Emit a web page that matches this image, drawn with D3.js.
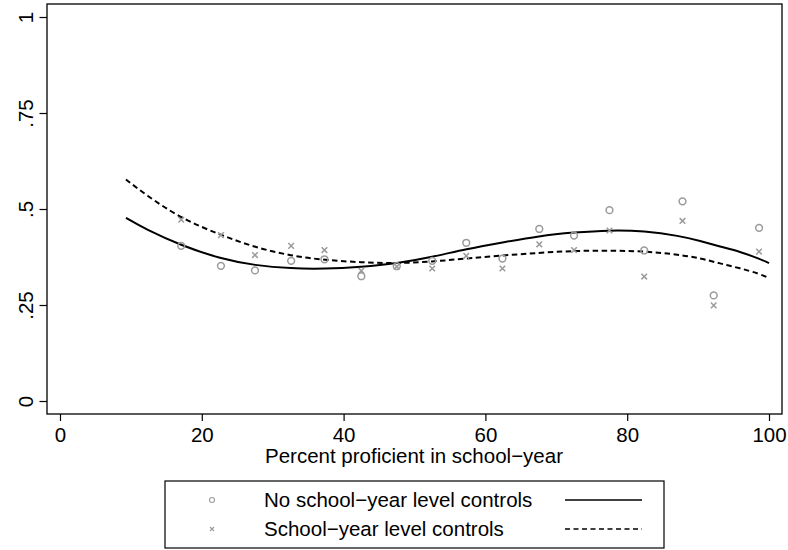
<!DOCTYPE html>
<html>
<head>
<meta charset="utf-8">
<script src="https://cdn.jsdelivr.net/npm/d3@7"></script>
<style>
  body { margin: 0; background: #fff; }
  text { font-family: "Liberation Sans", Arial, Helvetica, sans-serif; fill: #000; }
</style>
</head>
<body>
<script>
// Binned scatter points (percent proficient in school-year)
const binX = [17.1, 22.7, 27.5, 32.6, 37.3, 42.5, 47.5, 52.5, 57.3, 62.4, 67.6, 72.5, 77.5, 82.4, 87.8, 92.2, 98.6];
const noControls = [0.404, 0.352, 0.340, 0.365, 0.369, 0.325, 0.351, 0.365, 0.412, 0.371, 0.448, 0.431, 0.497, 0.392, 0.520, 0.275, 0.451];
const withControls = [0.472, 0.432, 0.380, 0.404, 0.393, 0.339, 0.350, 0.345, 0.378, 0.345, 0.408, 0.393, 0.444, 0.324, 0.469, 0.249, 0.389];

// Fitted curves
const fitX = [9.3, 12, 17.1, 22.7, 27.5, 32.6, 37.3, 42.5, 47.5, 52.5, 57.3, 62.4, 67.6, 72.5, 77.5, 82.4, 87.4, 90.3, 93.1, 95.9, 98.7, 100];
const fitNoControls = [0.477, 0.448, 0.405, 0.370, 0.353, 0.345, 0.344, 0.349, 0.358, 0.375, 0.396, 0.413, 0.430, 0.439, 0.445, 0.443, 0.430, 0.417, 0.402, 0.389, 0.370, 0.359];
const fitControls = [0.577, 0.538, 0.475, 0.432, 0.400, 0.378, 0.367, 0.361, 0.358, 0.363, 0.371, 0.379, 0.386, 0.391, 0.392, 0.390, 0.381, 0.372, 0.358, 0.346, 0.331, 0.320];

const xTicks = [0, 20, 40, 60, 80, 100];
const yTicks = [0, 0.25, 0.5, 0.75, 1];
const yTickLabels = ["0", ".25", ".5", ".75", "1"];
const legendLabels = ["No school\u2212year level controls", "School\u2212year level controls"];
const xTitle = "Percent proficient in school\u2212year";

const width = 788, height = 550;
const frame = { left: 47, top: 4, right: 782, bottom: 414 };
const grey = "#9a9a9a";
const fontSize = "20.5px";

const svg = d3.select("body").append("svg")
  .attr("width", width)
  .attr("height", height);

const x = d3.scaleLinear().domain([0, 100]).range([60, 769]);
const y = d3.scaleLinear().domain([0, 1]).range([401, 17]);

// plot frame
svg.append("rect")
  .attr("x", frame.left).attr("y", frame.top)
  .attr("width", frame.right - frame.left)
  .attr("height", frame.bottom - frame.top)
  .attr("fill", "none").attr("stroke", "#000").attr("stroke-width", 1.3);

// x axis
const xAxis = svg.append("g")
  .attr("transform", `translate(0,${frame.bottom})`)
  .call(d3.axisBottom(x).tickValues(xTicks).tickSize(7).tickPadding(6).tickFormat(d3.format("d")));
xAxis.select(".domain").remove();
xAxis.selectAll("line").attr("stroke", "#000").attr("stroke-width", 1.2);
xAxis.selectAll("text").attr("font-size", fontSize).attr("fill", "#000")
  .style("font-family", "'Liberation Sans', Arial, sans-serif");

// y axis, labels rotated like Stata
const yAxis = svg.append("g")
  .attr("transform", `translate(${frame.left},0)`)
  .call(d3.axisLeft(y).tickValues(yTicks).tickSize(7.5).tickFormat((d, i) => yTickLabels[i]));
yAxis.select(".domain").remove();
yAxis.selectAll("line").attr("stroke", "#000").attr("stroke-width", 1.2);
yAxis.selectAll("text")
  .attr("x", 0).attr("y", 0).attr("dy", 0)
  .attr("transform", "translate(-14,0) rotate(-90)")
  .attr("text-anchor", "middle")
  .attr("font-size", fontSize).attr("fill", "#000")
  .style("font-family", "'Liberation Sans', Arial, sans-serif");

// x title
svg.append("text")
  .attr("x", 414).attr("y", 463)
  .attr("text-anchor", "middle")
  .attr("font-size", fontSize)
  .text(xTitle);

// fitted lines
const line = d3.line().curve(d3.curveBasis);

svg.append("path")
  .attr("d", line(fitX.map((d, i) => [x(d), y(fitNoControls[i])])))
  .attr("fill", "none").attr("stroke", "#000").attr("stroke-width", 2);

svg.append("path")
  .attr("d", line(fitX.map((d, i) => [x(d), y(fitControls[i])])))
  .attr("fill", "none").attr("stroke", "#000").attr("stroke-width", 2)
  .attr("stroke-dasharray", "5.5,3.5");

// scatter: circles and crosses
function cross(g, cx, cy, r) {
  g.append("path")
    .attr("d", `M${cx - r},${cy - r}L${cx + r},${cy + r}M${cx - r},${cy + r}L${cx + r},${cy - r}`)
    .attr("stroke", grey).attr("stroke-width", 1.5).attr("fill", "none");
}

svg.append("g").selectAll("circle")
  .data(binX)
  .join("circle")
  .attr("cx", d => x(d))
  .attr("cy", (d, i) => y(noControls[i]))
  .attr("r", 3.4)
  .attr("fill", "none").attr("stroke", grey).attr("stroke-width", 1.5);

const crosses = svg.append("g");
binX.forEach((d, i) => cross(crosses, x(d), y(withControls[i]), 2.8));

// legend
const legend = svg.append("g");
legend.append("rect")
  .attr("x", 165).attr("y", 481).attr("width", 499).attr("height", 67)
  .attr("fill", "#fff").attr("stroke", "#000").attr("stroke-width", 1.2);

const rows = [500, 529];
legend.append("circle")
  .attr("cx", 212).attr("cy", rows[0]).attr("r", 2.5)
  .attr("fill", "none").attr("stroke", grey).attr("stroke-width", 1.1);
cross(legend, 212, rows[1], 2);
legend.select("path").attr("stroke-width", 1.1);

legendLabels.forEach((t, i) => {
  legend.append("text")
    .attr("x", 264).attr("y", rows[i] + 7.3)
    .attr("font-size", fontSize)
    .text(t);
});

legend.append("line")
  .attr("x1", 565).attr("x2", 642).attr("y1", rows[0]).attr("y2", rows[0])
  .attr("stroke", "#000").attr("stroke-width", 1.6);
legend.append("line")
  .attr("x1", 565).attr("x2", 642).attr("y1", rows[1]).attr("y2", rows[1])
  .attr("stroke", "#000").attr("stroke-width", 1.6)
  .attr("stroke-dasharray", "5,3.5");
</script>
</body>
</html>
